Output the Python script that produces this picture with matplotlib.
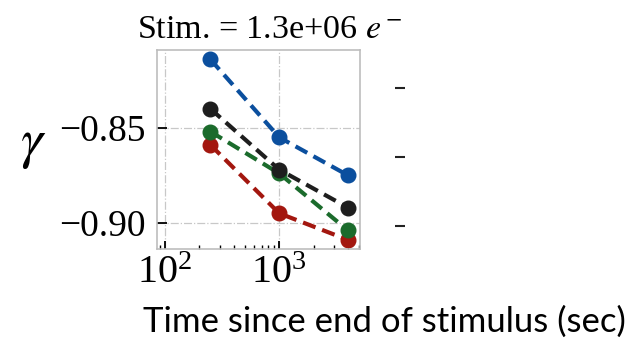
import matplotlib
matplotlib.use('Agg')
import matplotlib.pyplot as plt
import numpy as np

plt.rcParams['font.family'] = ['Liberation Serif', 'DejaVu Serif']
plt.rcParams['mathtext.fontset'] = 'stix'

# time since end of stimulus (sec)
times = [250, 1000, 4000]
gamma_blue = [-0.814, -0.855, -0.875]
gamma_black = [-0.840, -0.872, -0.892]
gamma_green = [-0.852, -0.874, -0.904]
gamma_red = [-0.859, -0.895, -0.909]

series = [
    (gamma_red, '#a3170f'),
    (gamma_green, '#1b6b2c'),
    (gamma_black, '#1e1e1e'),
    (gamma_blue, '#0b4f9e'),
]

fig = plt.figure(figsize=(6.29, 3.44), dpi=100)
ax = fig.add_axes([157/629, 1-249/344, 203/629, 199/344])

for vals, col in series:
    ax.plot(times, vals, '--', color=col, lw=3.0, marker='o', ms=10.5,
            dashes=(3.2, 1.7))

ax.set_xscale('log')
ax.set_xlim(85, 5100)
ax.set_ylim(-0.9138, -0.809)
ax.set_xticks([100, 1000])
ax.set_yticks([-0.85, -0.90])
ax.set_yticklabels(['\u22120.85', '\u22120.90'])
ax.grid(True, which='major', color='#c8c8c8', linestyle='-.', lw=0.9)
for s in ax.spines.values():
    s.set_color('#bdbdbd')
    s.set_linewidth(1.2)
ax.tick_params(axis='y', direction='in', length=7, width=1.3, color='k',
               labelsize=27, pad=8)
ax.tick_params(axis='x', which='major', direction='in', length=6, width=1.3,
               color='k', labelsize=29, pad=4)
ax.tick_params(axis='x', which='minor', direction='in', length=3, width=1.0,
               color='k')
ax.tick_params(right=False, top=False, which='both')

fig.text(270/629, 1-38/344, 'Stim. = 1.3e+06 $e^-$', ha='center',
         va='baseline', fontsize=24.5)
fig.text(33/629, 1-145/344, r'$\gamma$', ha='center', va='center',
         fontsize=40)
fig.text(384/629, 1-332/344, 'Time since end of stimulus (sec)',
         ha='center', va='baseline', fontsize=25, family='Lato')

# ticks of the neighbouring panel
ax2 = fig.add_axes([405/629, 1-225.7/344, 0.001, 137.4/344])
ax2.set_ylim(0, 2)
ax2.set_yticks([0, 1, 2])
ax2.set_yticklabels([])
ax2.set_xticks([])
for s in ax2.spines.values():
    s.set_visible(False)
ax2.tick_params(axis='y', direction='out', length=7.5, width=1.5, color='#222222')
ax2.patch.set_alpha(0)

fig.savefig('out.png', dpi=100)
